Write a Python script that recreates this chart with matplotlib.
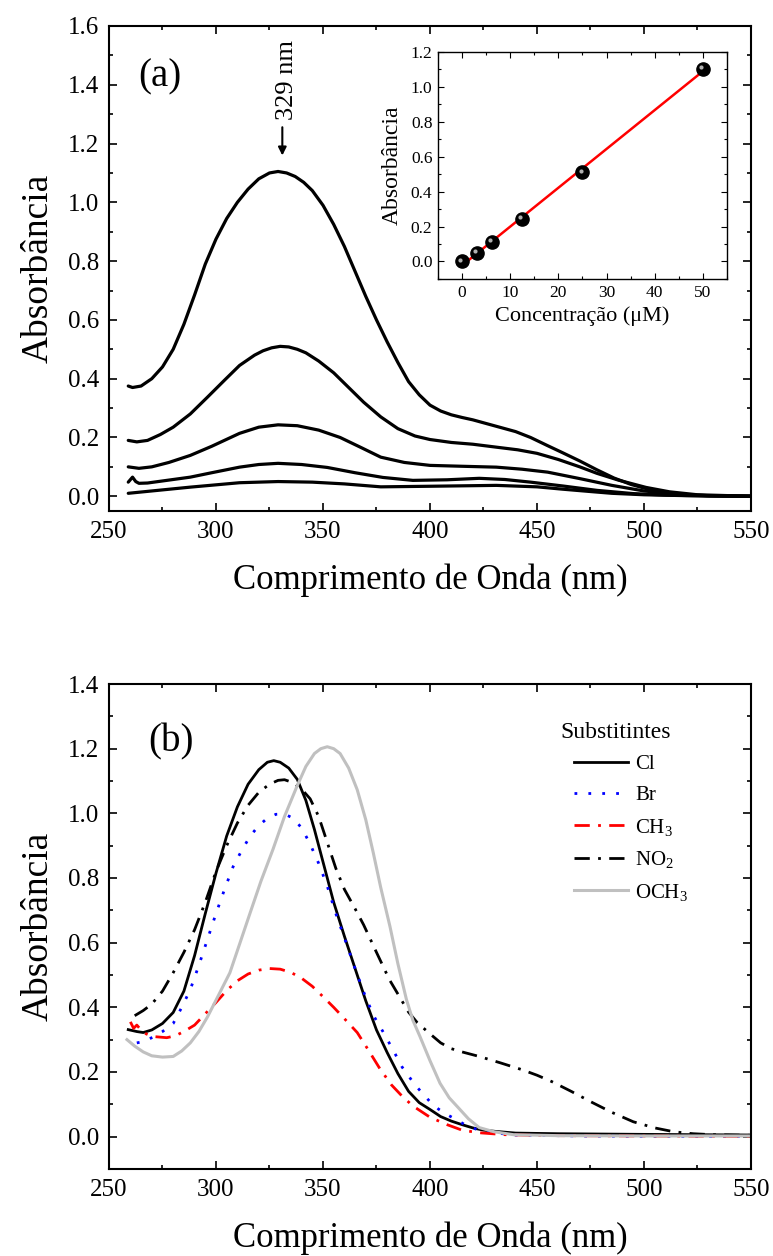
import numpy as np
import matplotlib
matplotlib.use("Agg")
import matplotlib.pyplot as plt
from matplotlib.ticker import MultipleLocator, FormatStrFormatter
from matplotlib.transforms import offset_copy

plt.rcParams['font.family'] = ['Liberation Serif', 'DejaVu Serif']
plt.rcParams['mathtext.fontset'] = 'custom'
plt.rcParams['mathtext.rm'] = 'Liberation Serif'
plt.rcParams['mathtext.it'] = 'Liberation Serif:italic'

# ---------------- Panel (a) data ----------------
a1_x = [259, 261, 265, 270, 275, 280, 285, 290, 295, 300, 305, 310, 315, 320, 325, 329, 333, 337,
        341, 345, 350, 355, 360, 365, 370, 375, 380, 385, 390, 395, 400, 405, 410, 415, 420, 430,
        440, 447, 455, 462, 470, 478, 486, 494, 501, 510, 518, 525, 535, 550]
a1_y = [0.375, 0.37, 0.375, 0.40, 0.44, 0.50, 0.585, 0.685, 0.79, 0.875, 0.945, 1.0, 1.045, 1.08,
        1.10, 1.105, 1.10, 1.088, 1.068, 1.04, 0.99, 0.925, 0.85, 0.765, 0.68, 0.6, 0.525, 0.455,
        0.39, 0.345, 0.31, 0.29, 0.277, 0.268, 0.26, 0.24, 0.22, 0.20, 0.172, 0.148, 0.12, 0.09,
        0.062, 0.04, 0.026, 0.012, 0.006, 0.003, 0.001, 0.0]

a2_x = [259, 263, 268, 274, 280, 288, 296, 304, 311, 318, 322, 326, 330, 334, 338, 342, 348, 355,
        362, 369, 377, 385, 393, 400, 410, 420, 431, 441, 450, 460, 470, 478, 488, 501, 512, 525, 550]
a2_y = [0.19, 0.185, 0.19, 0.21, 0.235, 0.28, 0.337, 0.395, 0.445, 0.48, 0.495, 0.505, 0.51, 0.508,
        0.50, 0.488, 0.46, 0.42, 0.37, 0.32, 0.27, 0.23, 0.205, 0.193, 0.183, 0.177, 0.167, 0.158,
        0.146, 0.125, 0.10, 0.078, 0.055, 0.03, 0.015, 0.005, 0.0]

a3_x = [259, 264, 270, 278, 288, 298, 311, 320, 329, 338, 348, 358, 368, 377, 388, 400, 415, 431, 443,
        455, 470, 485, 500, 515, 530, 550]
a3_y = [0.10, 0.095, 0.10, 0.115, 0.139, 0.17, 0.214, 0.235, 0.243, 0.24, 0.225, 0.2, 0.165, 0.133,
        0.115, 0.105, 0.102, 0.099, 0.092, 0.082, 0.06, 0.037, 0.018, 0.007, 0.002, 0.0]

a4_x = [259, 261, 262.5, 264, 268, 278, 288, 298, 311, 320, 329, 340, 352, 365, 378, 392, 408, 423,
        435, 447, 462, 478, 495, 510, 530, 550]
a4_y = [0.048, 0.065, 0.05, 0.044, 0.045, 0.055, 0.065, 0.08, 0.099, 0.108, 0.112, 0.108, 0.098, 0.08,
        0.064, 0.054, 0.056, 0.061, 0.057, 0.048, 0.035, 0.02, 0.009, 0.004, 0.001, 0.0]

a5_x = [259, 270, 288, 311, 329, 345, 360, 377, 400, 431, 450, 462, 475, 485, 500, 520, 550]
a5_y = [0.01, 0.018, 0.031, 0.046, 0.05, 0.048, 0.042, 0.032, 0.034, 0.037, 0.032, 0.024, 0.016, 0.01,
        0.005, 0.002, 0.0]

# inset
conc = [0, 3.125, 6.25, 12.5, 25, 50]
absb = [0.0, 0.05, 0.11, 0.245, 0.51, 1.105]

# ---------------- Panel (b) data ----------------
cl_x = [259, 263, 266, 270, 275, 280, 285, 290, 295, 300, 305, 310, 315, 320, 324, 327, 330, 334, 338,
        342, 346, 350, 355, 360, 365, 370, 375, 380, 385, 390, 395, 400, 405, 410, 415, 420, 425, 431,
        440, 460, 500, 550]
cl_y = [0.331, 0.325, 0.322, 0.33, 0.35, 0.384, 0.45, 0.56, 0.69, 0.815, 0.93, 1.02, 1.09, 1.135,
        1.158, 1.163, 1.158, 1.14, 1.105, 1.04, 0.95, 0.85, 0.725, 0.62, 0.52, 0.42, 0.33, 0.26, 0.195,
        0.14, 0.105, 0.084, 0.062, 0.048, 0.037, 0.027, 0.02, 0.016, 0.011, 0.009, 0.007, 0.005]

br_x = [263, 267, 271, 275, 280, 284, 288, 292, 296, 300, 304, 308, 312, 316, 320, 324, 328, 332, 336,
        340, 344, 348, 352, 356, 360, 365, 370, 374, 378, 383, 387, 393, 400, 404, 408, 413, 417, 425,
        440, 470, 500, 550]
br_y = [0.29, 0.295, 0.31, 0.325, 0.35, 0.40, 0.455, 0.53, 0.61, 0.69, 0.765, 0.835, 0.885, 0.93,
        0.962, 0.985, 0.997, 0.998, 0.985, 0.955, 0.905, 0.845, 0.775, 0.69, 0.615, 0.52, 0.43, 0.37,
        0.325, 0.265, 0.215, 0.16, 0.108, 0.085, 0.068, 0.05, 0.034, 0.015, 0.005, 0.002, 0.001, 0.001]

ch3_x = [260, 261.5, 263, 266, 270, 277, 281, 285, 290, 295, 300, 305, 310, 315, 320, 325, 330, 335,
         340, 345, 350, 355, 360, 366, 371, 376.6, 382, 387, 392, 400, 408, 415, 423, 435, 460, 500, 550]
ch3_y = [0.355, 0.335, 0.345, 0.322, 0.31, 0.306, 0.312, 0.325, 0.345, 0.38, 0.415, 0.452, 0.482,
         0.503, 0.515, 0.52, 0.518, 0.508, 0.49, 0.465, 0.433, 0.40, 0.365, 0.322, 0.27, 0.21, 0.16,
         0.125, 0.095, 0.06, 0.037, 0.02, 0.012, 0.006, 0.003, 0.002, 0.001]

no2_x = [262, 266, 270, 275, 280, 285, 290, 295, 300, 305, 310, 315, 320, 325, 329, 332, 336, 340, 344,
         348, 352, 356, 360, 365, 369, 375, 381, 386, 390, 394, 400, 405, 410, 415, 423, 433, 443,
         450, 457, 466, 476, 485, 495, 505, 514, 523, 532, 550]
no2_y = [0.374, 0.39, 0.41, 0.45, 0.507, 0.57, 0.64, 0.725, 0.82, 0.90, 0.97, 1.025, 1.065, 1.09,
         1.102, 1.104, 1.095, 1.075, 1.045, 0.99, 0.91, 0.83, 0.765, 0.705, 0.655, 0.57, 0.486, 0.43,
         0.385, 0.353, 0.318, 0.29, 0.272, 0.262, 0.248, 0.228, 0.207, 0.19, 0.17, 0.14, 0.105,
         0.075, 0.046, 0.027, 0.015, 0.009, 0.006, 0.004]

och3_x = [258.4, 262, 266, 270, 275, 280, 284, 288, 292, 296, 301, 306.5, 311, 316, 321, 326.6, 332,
          337.8, 342, 346, 349, 352, 355, 358, 362, 366, 370, 373.5, 377, 381.3, 385, 389, 392, 395.3,
          400, 404.7, 409, 414, 418, 423, 430, 439, 460, 500, 550]
och3_y = [0.30, 0.28, 0.262, 0.25, 0.246, 0.248, 0.265, 0.29, 0.325, 0.37, 0.435, 0.507, 0.595,
          0.693, 0.79, 0.888, 0.99, 1.083, 1.145, 1.185, 1.2, 1.206, 1.2, 1.185, 1.14, 1.073, 0.98,
          0.878, 0.77, 0.65, 0.535, 0.424, 0.36, 0.31, 0.235, 0.165, 0.12, 0.084, 0.055, 0.028, 0.015,
          0.006, 0.003, 0.002, 0.002]

legend_labels = ["Cl", "Br", "CH$_3$", "NO$_2$", "OCH$_3$"]
xticks = [250, 300, 350, 400, 450, 500, 550]

fig = plt.figure(figsize=(7.73, 12.56), dpi=100)


def style(ax, tick_size=18, major=6, minor=3):
    for s in ax.spines.values():
        s.set_linewidth(1.5)
    ax.tick_params(which='both', direction='in', top=True, right=True, width=1.2,
                   labelsize=tick_size, pad=7)
    ax.tick_params(which='major', length=major)
    ax.tick_params(which='minor', length=minor)


def axes_setup(ax, ylim):
    ax.set_xlim(250, 550)
    ax.set_ylim(*ylim)
    ax.set_xticks(xticks)
    ax.xaxis.set_minor_locator(MultipleLocator(25))
    ax.yaxis.set_major_locator(MultipleLocator(0.2))
    ax.yaxis.set_minor_locator(MultipleLocator(0.1))
    ax.yaxis.set_major_formatter(FormatStrFormatter('%.1f'))
    style(ax)
    ax.set_xlabel("Comprimento de Onda (nm)", fontsize=25, labelpad=15)
    ax.set_ylabel("Absorbância", fontsize=27, labelpad=9)


# ---- Panel (a)
axa = fig.add_axes([0.141, 0.5932, 0.8305, 0.3861])
for xs, ys in [(a1_x, a1_y), (a2_x, a2_y), (a3_x, a3_y), (a4_x, a4_y), (a5_x, a5_y)]:
    axa.plot(xs, ys, color='black', lw=2.3, solid_joinstyle='round', solid_capstyle='round')
axes_setup(axa, (-0.05, 1.6))
axa.text(0.045, 0.895, "(a)", transform=axa.transAxes, fontsize=28, va='center', ha='left')
axa.annotate("", xy=(331, 1.15), xytext=(331, 1.265),
             arrowprops=dict(arrowstyle='-|>', color='black', lw=1.5, mutation_scale=12))
axa.text(333, 1.28, "329 nm", rotation=90, fontsize=19, ha='center', va='bottom')

# ---- Inset
axi = fig.add_axes([0.5666, 0.7779, 0.3739, 0.1807])
fit = np.polyfit(conc, absb, 1)
xf = np.array([min(conc), max(conc)])
axi.plot(xf, np.polyval(fit, xf), color='red', lw=1.8, zorder=2)
axi.plot(conc, absb, 'o', color='black', markersize=9.5, markeredgecolor='black', zorder=3)
hl = offset_copy(axi.transData, fig=fig, x=-1.8, y=1.8, units='dots')
axi.plot(conc, absb, 'o', color='#b0b0b0', markersize=3, markeredgewidth=0,
         zorder=4, transform=hl)
axi.set_xlim(-5, 55)
axi.set_ylim(-0.1, 1.2)
axi.xaxis.set_major_locator(MultipleLocator(10))
axi.xaxis.set_minor_locator(MultipleLocator(5))
axi.yaxis.set_major_locator(MultipleLocator(0.2))
axi.yaxis.set_minor_locator(MultipleLocator(0.1))
axi.yaxis.set_major_formatter(FormatStrFormatter('%.1f'))
for s in axi.spines.values():
    s.set_linewidth(1.0)
axi.tick_params(which='both', direction='in', top=True, right=True, width=0.8, labelsize=12.5, pad=4)
axi.tick_params(which='major', length=4)
axi.tick_params(which='minor', length=2)
axi.set_xlabel("Concentração (μM)", fontsize=16, labelpad=4)
axi.set_ylabel("Absorbância", fontsize=17, labelpad=6)

# ---- Panel (b)
axb = fig.add_axes([0.141, 0.0693, 0.8305, 0.3861])
axb.plot(cl_x, cl_y, color='black', lw=2.0, label=legend_labels[0], solid_joinstyle='round')
axb.plot(br_x, br_y, color='blue', lw=2.0, dashes=(1, 4), label=legend_labels[1])
axb.plot(ch3_x, ch3_y, color='red', lw=2.0, dashes=(5.5, 3, 1, 3), label=legend_labels[2])
axb.plot(no2_x, no2_y, color='black', lw=2.0, dashes=(5.5, 3, 1, 3), label=legend_labels[3])
axb.plot(och3_x, och3_y, color='#c0c0c0', lw=2.2, label=legend_labels[4], solid_joinstyle='round')
axes_setup(axb, (-0.1, 1.4))
axb.text(0.061, 0.880, "(b)", transform=axb.transAxes, fontsize=28, va='center', ha='left')
leg = axb.legend(title="Substitintes", frameon=False, fontsize=15, title_fontsize=17,
                 loc='upper left', bbox_to_anchor=(0.695, 0.96), handlelength=2.6,
                 handletextpad=0.35, labelspacing=0.55, alignment='left')
leg.get_title().set_position((-14, 0))

fig.savefig("out.png", dpi=100)
